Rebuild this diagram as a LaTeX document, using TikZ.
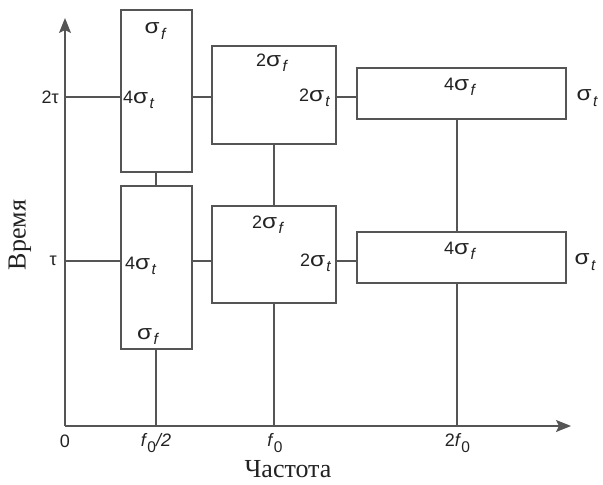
\documentclass[tikz,border=0pt]{standalone}
\usepackage{fontspec}
\usepackage{graphicx}
\setmainfont{Liberation Serif}
\newfontfamily\labfont{Liberation Sans}
\usetikzlibrary{arrows.meta}
\definecolor{linec}{HTML}{555555}
\definecolor{textc}{HTML}{222222}
\newcommand\subx[1]{\kern0.08em\raisebox{-0.3em}{\fontsize{15.5}{15.5}\selectfont #1}}
\newcommand\sig{\scalebox{1.35}[1.15]{σ}}
\tikzset{
  line/.style={draw=linec, line width=1.3pt},
  box/.style={line, rectangle, inner sep=0pt, fill=none},
  lab/.style={inner sep=0pt, text=textc, font=\labfont\fontsize{18}{18}\selectfont},
  tick/.style={inner sep=0pt, text=textc, font=\labfont\fontsize{18}{18}\selectfont},
  axtitle/.style={inner sep=0pt, text=textc, font=\fontsize{26}{26}\selectfont},
  axis/.style={line, -{Stealth[length=15pt,width=12pt,inset=3pt]}}
}
\begin{document}
\begin{tikzpicture}[x=1pt,y=-1pt]
\useasboundingbox (0,0) rectangle (603,485);
% coordinates
\coordinate (o) at (65,426);
\coordinate (ytop) at (65,18);
\coordinate (xend) at (571,426);
\coordinate (t2) at (65,97);
\coordinate (t1) at (65,261);
\coordinate (xh) at (156,426);
\coordinate (x1) at (274,426);
\coordinate (x2) at (457,426);
% boxes
\node[box, minimum width=71pt, minimum height=162pt] (A) at (156.5,91) {};
\node[box, minimum width=71pt, minimum height=163pt] (B) at (156.5,267.5) {};
\node[box, minimum width=124pt, minimum height=98pt] (C) at (274,95) {};
\node[box, minimum width=124pt, minimum height=97pt] (D) at (274,254.5) {};
\node[box, minimum width=209pt, minimum height=51pt] (E) at (461.5,93.5) {};
\node[box, minimum width=209pt, minimum height=51pt] (F) at (461.5,257.5) {};
% axes
\draw[axis] (o) -- (ytop);
\draw[axis] (o) -- (xend);
% connectors upper row
\draw[line] (t2) -- (t2 -| A.west);
\draw[line] (t2 -| A.east) -- (t2 -| C.west);
\draw[line] (t2 -| C.east) -- (t2 -| E.west);
% connectors lower row
\draw[line] (t1) -- (t1 -| B.west);
\draw[line] (t1 -| B.east) -- (t1 -| D.west);
\draw[line] (t1 -| D.east) -- (t1 -| F.west);
% verticals
\draw[line] (A.south -| xh) -- (B.north -| xh);
\draw[line] (B.south -| xh) -- (xh);
\draw[line] (C.south -| x1) -- (D.north -| x1);
\draw[line] (D.south -| x1) -- (x1);
\draw[line] (E.south -| x2) -- (F.north -| x2);
\draw[line] (F.south -| x2) -- (x2);
% box labels
\node[lab] (la1) at (155,31) {\sig\subx{\itshape f}};
\node[lab, anchor=west] (la2) at (123,100) {4\sig\subx{\itshape t}};
\node[lab, anchor=west] (lb1) at (125,266) {4\sig\subx{\itshape t}};
\node[lab] (lb2) at (147.5,336.5) {\sig\subx{\itshape f}};
\node[lab] (lc1) at (271.5,63) {2\sig\subx{\itshape f}};
\node[lab, anchor=east] (lc2) at (330,98) {2\sig\subx{\itshape t}};
\node[lab] (ld1) at (267.5,225) {2\sig\subx{\itshape f}};
\node[lab, anchor=east] (ld2) at (331,263) {2\sig\subx{\itshape t}};
\node[lab] (le1) at (459.5,87) {4\sig\subx{\itshape f}};
\node[lab] (le2) at (587,98) {\sig\subx{\itshape t}};
\node[lab] (lf1) at (459.5,251) {4\sig\subx{\itshape f}};
\node[lab] (lf2) at (585,262) {\sig\subx{\itshape t}};
% time ticks
\node[tick, anchor=east] (l2t) at (59,97) {2τ};
\node[tick, anchor=east] (l1t) at (57,261) {τ};
% frequency ticks
\node[tick] (l0) at (65,441) {0};
\node[tick] (lh) at (156,443) {\itshape f\subx{\upshape 0}/2};
\node[tick] (l1) at (275,443) {\itshape f\subx{\upshape 0}};
\node[tick] (l2) at (457.5,443) {2\itshape f\subx{\upshape 0}};
% axis titles
\node[axtitle] (xt) at (288,469) {Частота};
\node[axtitle, rotate=90] (yt) at (20,235) {Время};
\end{tikzpicture}
\end{document}
